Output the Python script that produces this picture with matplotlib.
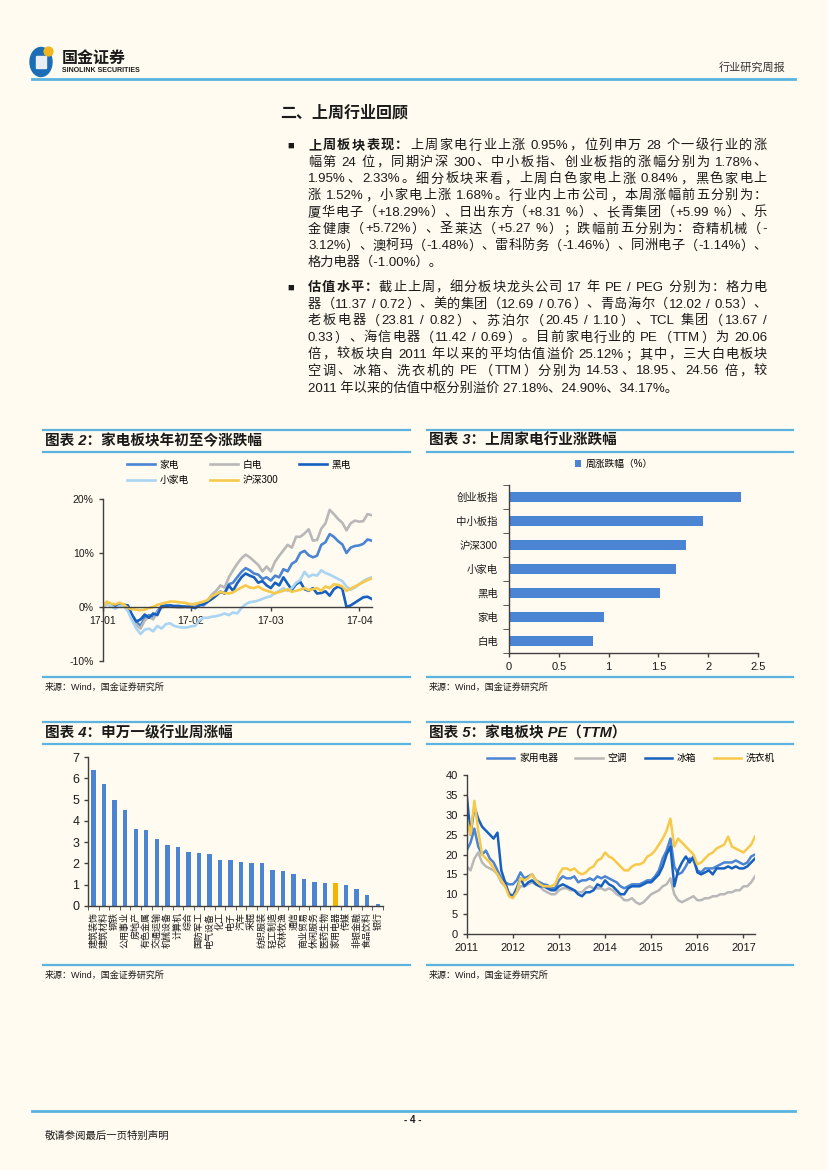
import matplotlib
matplotlib.use("Agg")
import matplotlib.pyplot as plt
import matplotlib.patches as patches
from matplotlib.lines import Line2D
import numpy as np

W, H = 827, 1170
BG = "#fffbf0"
FRAME = "#5ab4df"
INK = "#1a1a1a"
AXC = "#404040"
plt.rcParams["font.family"] = ["Liberation Sans", "Noto Sans CJK SC"]
plt.rcParams["axes.unicode_minus"] = False

# ---- chart 2: YTD change (%) per trading day ----
ytd_days = np.arange(65)
ytd_ticks = [0, 21, 40, 61]
ytd_ticklabels = ["17-01", "17-02", "17-03", "17-04"]
jiadian = [0, 0.6, 0.3, 0.0, 0.3, 0.5, -0.3, -1.5, -2.8, -3.5, -2.0, -1.5, -2.0, -0.8, 0.1, 0.3,
           0.2, 0.1, 0.0, 0.0, 0.2, 0.1, 0.0, 0.5, 0.3, 1.0, 1.6, 2.3, 2.8, 2.6, 4.2, 4.5,
           5.5, 6.5, 7.2, 6.8, 6.2, 6.0, 5.2, 5.5, 4.9, 5.8, 5.5, 7.0, 6.6, 8.0, 8.5, 10.0,
           10.4, 9.6, 9.2, 9.5, 11.5, 12.0, 13.5, 13.0, 12.2, 11.6, 10.0, 11.0, 11.3, 11.4, 11.7, 12.5, 12.3]
baidian = [0, 0.8, 0.2, -0.2, 0.3, 0.4, -0.5, -2.0, -3.3, -4.0, -2.5, -1.8, -2.3, -1.0, -0.2, 0.2,
           0.1, 0.0, -0.1, -0.1, 0.1, 0.0, -0.2, 0.5, 0.4, 1.3, 2.3, 3.0, 4.0, 3.6, 5.5, 6.8,
           8.0, 9.0, 9.7, 9.2, 8.5, 7.8, 6.6, 7.5, 6.6, 8.4, 9.5, 10.5, 11.5, 11.0, 13.0, 13.0,
           13.6, 14.4, 12.3, 12.4, 14.5, 15.5, 18.0, 17.2, 16.3, 15.6, 14.2, 15.5, 16.0, 15.8, 15.9, 17.2, 17.0]
heidian = [0.0, 0.9, 0.4, 0.1, 0.5, 0.4, 0.3, -1.5, -2.7, -2.3, -1.4, -2.0, -1.2, -1.5, 0.2, 0.2,
           0.3, 0.2, 0.2, 0.1, 0.0, 0.0, -0.2, 0.3, 0.5, 1.0, 1.5, 2.1, 2.8, 2.5, 4.0, 3.0,
           4.4, 5.5, 6.2, 5.8, 5.5, 4.5, 4.8, 4.0, 3.5, 4.5, 4.0, 5.5, 4.3, 3.2, 4.2, 4.7,
           3.3, 3.0, 3.5, 2.5, 2.6, 2.9, 2.1, 3.3, 3.8, 3.4, 0.0, 0.3, 0.8, 1.3, 1.8, 1.9, 1.5]
xiaojiadian = [0, 0.5, 0.2, -0.3, 0.2, 0.2, -0.8, -2.5, -4.0, -5.0, -4.2, -4.0, -4.5, -3.5, -4.0, -3.2,
               -3.0, -3.5, -3.7, -3.8, -3.8, -3.6, -3.5, -2.5, -2.0, -2.0, -1.8, -1.7, -1.5, -1.2, -1.5, -1.0,
               -1.2, -0.2, 0.5, 0.9, 1.0, 1.2, 1.5, 1.8, 2.0, 2.6, 3.0, 3.5, 3.0, 3.5, 4.5, 5.0,
               6.5, 5.6, 6.0, 5.8, 6.8, 6.3, 6.0, 5.6, 5.2, 4.8, 3.8, 3.2, 3.6, 4.2, 4.8, 5.2, 5.5]
hs300 = [0, 1.0, 0.6, 0.5, 0.8, 0.5, -0.2, -0.4, -0.5, -0.6, -0.5, -0.2, 0.0, 0.4, 0.6, 0.8,
         1.0, 1.0, 0.9, 0.8, 0.7, 0.5, 0.6, 0.8, 1.0, 1.3, 2.0, 2.4, 2.8, 2.6, 2.5, 2.7,
         3.2, 3.6, 4.0, 3.6, 3.5, 3.8, 3.3, 3.0, 2.8, 2.5, 2.8, 3.0, 3.3, 2.8, 3.0, 3.2,
         3.5, 3.1, 3.3, 3.5, 3.0, 3.8, 3.5, 4.2, 4.1, 3.8, 3.0, 3.4, 3.8, 4.2, 4.6, 5.0, 5.3]

# ---- chart 3: last week change (%) ----
week_cats = ["白电", "家电", "黑电", "小家电", "沪深300", "中小板指", "创业板指"]
week_vals = [0.84, 0.95, 1.52, 1.68, 1.78, 1.95, 2.33]

# ---- chart 4: SW level-1 industries weekly change ----
ind_names = ["建筑装饰", "建筑材料", "钢铁", "公用事业", "房地产", "有色金属", "交通运输", "机械设备",
             "计算机", "综合", "国防军工", "电气设备", "化工", "电子", "汽车", "采掘", "纺织服装",
             "轻工制造", "农林牧渔", "通信", "商业贸易", "休闲服务", "医药生物", "家用电器", "传媒",
             "非银金融", "食品饮料", "银行"]
ind_vals = [6.40, 5.75, 4.96, 4.52, 3.63, 3.55, 3.16, 2.86, 2.76, 2.54, 2.50, 2.45, 2.18, 2.15,
            2.07, 2.03, 2.03, 1.68, 1.65, 1.52, 1.29, 1.13, 1.08, 1.08, 1.00, 0.80, 0.52, 0.09]

# ---- chart 5: PE(TTM), monthly, 2011-01 .. 2017-04 ----
pe_years = 2011 + np.arange(76) / 12.0
pe_jydq = [21, 23, 26.5, 22, 20, 21, 19, 18, 16, 14, 13, 12.5,
           12.5, 13.5, 15.5, 14, 14.5, 15, 13.5, 13, 12.5, 12.3, 11.5, 11.5,
           13.5, 14.5, 14, 14, 14.5, 13, 13.5, 13.5, 14, 13.5, 14.5, 14,
           14.5, 14, 13.5, 13, 12, 11.5, 12, 12.5, 12.5, 12.5, 13, 13.5,
           13.5, 14.5, 16, 19, 21, 24, 17, 15, 15.5, 17, 19, 18.5,
           16, 15.5, 16.5, 16.5, 16.5, 17, 17.5, 18, 18, 18, 18.5, 18,
           17.5, 18, 19.5, 20]
pe_kt = [17, 16, 19, 20.5, 18, 17, 16.5, 16, 15, 13, 12, 10.5,
         9.5, 10.5, 12, 12, 12.5, 13, 12.5, 12, 11, 10.5, 10, 10,
         11, 11.5, 11.5, 11, 11, 10.5, 10.5, 11.5, 12, 11.5, 11.5, 11.5,
         11, 11.5, 11, 10, 9.5, 8.5, 8.5, 9, 8, 7.5, 8, 9,
         10, 10.5, 11, 12, 12.5, 14, 10, 8.5, 8, 8.5, 9, 9.5,
         8.5, 8.5, 9, 9, 9.5, 9.5, 10, 10, 10.5, 10.5, 11, 11,
         12, 12, 13, 14.5]
pe_bx = [35, 25, 32, 29, 27, 26, 25, 24, 25.5, 16, 13, 10,
         9.5, 11.5, 14, 12, 13, 13.5, 12.5, 12, 12, 11.5, 11, 11,
         12, 12.5, 12, 11.5, 11, 10, 9.5, 10.5, 10.5, 11, 12.5, 12,
         13.5, 12.5, 12, 11, 10, 10, 11.5, 12, 12, 12, 12.5, 13,
         13, 14, 15, 17, 20, 22, 12, 16, 18, 19.5, 18, 19.5,
         15.5, 15, 15.5, 16, 15, 16.5, 16.5, 16.5, 17, 16.5, 17, 16.5,
         16.5, 17, 18, 19]
pe_xyj = [29, 25, 33.5, 26, 20, 19, 18, 16.5, 15, 13.5, 12, 9.5,
          9, 10.5, 14, 13.5, 14, 15, 13.5, 12.5, 12, 12, 12, 12.5,
          15, 16.5, 16.5, 16, 16.5, 15.5, 15, 15.5, 16.5, 17, 18.5, 19,
          20.5, 19.5, 19, 18, 17, 16, 16, 17, 17.5, 17.5, 18, 19.5,
          20, 21, 22.5, 24, 26, 29, 22, 24, 23, 22, 21, 20,
          17.5, 18, 19, 20, 20.5, 21.5, 22, 22.5, 24.5, 22, 21.5, 21,
          20.5, 21.5, 22.5, 24.5]

C_MID = "#4a84d2"
C_GRAY = "#b8b8b8"
C_DARK = "#1660c0"
C_LIGHT = "#a9d4f2"
C_YEL = "#f7c94a"
C_GOLD = "#f5b400"

fig = plt.figure(figsize=(W / 100, H / 100), dpi=100, facecolor=BG)
renderer = fig.canvas.get_renderer()

# page layer in pixel coordinates
pg = fig.add_axes([0, 0, 1, 1])
pg.set_xlim(0, W)
pg.set_ylim(H, 0)
pg.axis("off")


def hline(y, x0, x1, lw=1.6):
    pg.add_line(Line2D([x0, x1], [y, y], color=FRAME, lw=lw))


def px_axes(l, t, r, b):
    ax = fig.add_axes([l / W, 1 - b / H, (r - l) / W, (b - t) / H])
    ax.set_facecolor("none")
    return ax


# header
pg.add_patch(patches.Ellipse((41, 62), 22, 29, color="#1b6db5"))
pg.add_patch(patches.FancyBboxPatch((37, 57), 9, 11, boxstyle="round,pad=0.5", color="#e8eef2"))
pg.add_patch(patches.Circle((48.5, 51.5), 4.4, color="#f2b51d"))
pg.text(62, 58, "国金证券", fontsize=11.5, fontweight="bold", color=INK, va="center")
pg.text(62, 71, "SINOLINK SECURITIES", fontsize=5, fontweight="bold", color=INK, va="center")
pg.text(785, 67, "行业研究周报", fontsize=8, color="#333333", ha="right", va="center")
hline(79, 32, 795, lw=2)

# section title and text
pg.text(280, 113, "二、上周行业回顾", fontsize=11.5, fontweight="bold", color=INK, va="center")


def split_tokens(segs):
    # each CJK char is a token, ascii runs stay together; remember spaces before tokens
    out = []
    for s, bold in segs:
        buf, sp = "", False
        for ch in s:
            if ch == " ":
                if buf:
                    out.append((buf, bold, sp))
                    buf = ""
                sp = True
            elif ord(ch) < 128:
                buf += ch
            else:
                if buf:
                    out.append((buf, bold, sp))
                    buf, sp = "", False
                out.append((ch, bold, sp))
                sp = False
        if buf:
            out.append((buf, bold, sp))
    return out


def justify_line(segs, x0, x1, y, size=9.5):
    toks = split_tokens(segs)
    arts = []
    for s, b, sp in toks:
        arts.append(pg.text(0, y, s, fontsize=size, color=INK, va="center",
                            fontweight="bold" if b else "normal"))
    ws = [a.get_window_extent(renderer).width for a in arts]
    sw = 0.3 * size * 100 / 72
    nsp = sum(1 for t in toks[1:] if t[2])
    gap = (x1 - x0 - sum(ws) - nsp * sw) / max(len(arts) - 1, 1)
    x = x0
    for i, (a, w) in enumerate(zip(arts, ws)):
        if i > 0 and toks[i][2]:
            x += sw
        a.set_x(x)
        x += w + gap


para1 = [
    [("上周板块表现：", True), ("上周家电行业上涨 0.95%，位列申万 28 个一级行业的涨", False)],
    [("幅第 24 位，同期沪深 300、中小板指、创业板指的涨幅分别为 1.78%、", False)],
    [("1.95%、2.33%。细分板块来看，上周白色家电上涨 0.84%，黑色家电上", False)],
    [("涨 1.52%，小家电上涨 1.68%。行业内上市公司，本周涨幅前五分别为：", False)],
    [("厦华电子（+18.29%）、日出东方（+8.31 %）、长青集团（+5.99 %）、乐", False)],
    [("金健康（+5.72%）、圣莱达（+5.27 %）；跌幅前五分别为：奇精机械（-", False)],
    [("3.12%）、澳柯玛（-1.48%）、雷科防务（-1.46%）、同洲电子（-1.14%）、", False)],
]
para2 = [
    [("估值水平：", True), ("截止上周，细分板块龙头公司 17 年 PE / PEG 分别为：格力电", False)],
    [("器（11.37 / 0.72）、美的集团（12.69 / 0.76）、青岛海尔（12.02 / 0.53）、", False)],
    [("老板电器（23.81 / 0.82）、苏泊尔（20.45 / 1.10）、TCL 集团（13.67 /", False)],
    [("0.33）、海信电器（11.42 / 0.69）。目前家电行业的 PE（TTM）为 20.06", False)],
    [("倍，较板块自 2011 年以来的平均估值溢价 25.12%；其中，三大白电板块", False)],
    [("空调、冰箱、洗衣机的 PE（TTM）分别为 14.53、18.95、24.56 倍，较", False)],
]
LX0, LX1, LH = 308, 767, 16.7

pg.text(291, 146, "■", fontsize=8, color=INK, va="center", ha="center")
for k, segs in enumerate(para1):
    justify_line(segs, LX0, LX1, 146 + LH * k)
pg.text(LX0, 146 + LH * 7, "格力电器（-1.00%）。", fontsize=9.5, color=INK, va="center")

pg.text(291, 288, "■", fontsize=8, color=INK, va="center", ha="center")
for k, segs in enumerate(para2):
    justify_line(segs, LX0, LX1, 288 + LH * k)
pg.text(LX0, 288 + LH * 6, "2011 年以来的估值中枢分别溢价 27.18%、24.90%、34.17%。",
        fontsize=9.5, color=INK, va="center")

# chart frames
for (x0, x1) in [(43, 410), (427, 793)]:
    hline(430, x0, x1)
    hline(452, x0, x1)
    hline(677, x0, x1)
    hline(722, x0, x1)
    hline(744, x0, x1)
    hline(965, x0, x1)
    pg.text(x0 + 2, 687, "来源：Wind，国金证券研究所", fontsize=6.5, color=INK, va="center")
    pg.text(x0 + 2, 975, "来源：Wind，国金证券研究所", fontsize=6.5, color=INK, va="center")

pg.text(45, 441, "图表 2：家电板块年初至今涨跌幅", fontsize=10.5, fontweight="bold", style="italic", color=INK, va="center")
pg.text(429, 441, "图表 3：上周家电行业涨跌幅", fontsize=10.5, fontweight="bold", style="italic", color=INK, va="center")
pg.text(45, 733, "图表 4：申万一级行业周涨幅", fontsize=10.5, fontweight="bold", style="italic", color=INK, va="center")
pg.text(429, 733, "图表 5：家电板块 PE（TTM）", fontsize=10.5, fontweight="bold", style="italic", color=INK, va="center")


def style_axes(ax, size=7.5):
    for s in ["top", "right"]:
        ax.spines[s].set_visible(False)
    for s in ["left", "bottom"]:
        ax.spines[s].set_color(AXC)
        ax.spines[s].set_linewidth(1.0)
    ax.tick_params(colors=AXC, labelcolor=INK, labelsize=size, length=3, width=1.0)


# ---- chart 2 ----
ax2 = px_axes(102.7, 499, 371.7, 661)
style_axes(ax2)
lw = 1.9
h1, = ax2.plot(ytd_days, jiadian, color=C_MID, lw=lw, label="家电")
h2, = ax2.plot(ytd_days, baidian, color=C_GRAY, lw=lw, label="白电")
h3, = ax2.plot(ytd_days, heidian, color=C_DARK, lw=lw, label="黑电")
h4, = ax2.plot(ytd_days, xiaojiadian, color=C_LIGHT, lw=lw, label="小家电")
h5, = ax2.plot(ytd_days, hs300, color=C_YEL, lw=lw, label="沪深300")
ax2.set_xlim(0, 64)
ax2.set_ylim(-10, 20)
ax2.spines["bottom"].set_position(("data", 0))
ax2.set_xticks(ytd_ticks)
ax2.set_xticklabels(ytd_ticklabels)
ax2.set_yticks([-10, 0, 10, 20])
ax2.set_yticklabels(["%d%%" % v for v in [-10, 0, 10, 20]])
ax2.legend(handles=[h1, h4, h2, h5, h3], ncol=3, frameon=False, fontsize=7,
           loc="upper left", bbox_to_anchor=(122 / W, 1 - 455 / H), bbox_transform=fig.transFigure,
           handlelength=2.9, handletextpad=0.5, columnspacing=2.1, labelspacing=0.55, borderpad=0)

# ---- chart 3 ----
ax3 = px_axes(509, 485, 758, 653)
style_axes(ax3, size=8)
ax3.barh(np.arange(len(week_cats)), week_vals, height=0.42, color=C_MID, label="周涨跌幅（%）")
ax3.set_xlim(0, 2.5)
ax3.set_ylim(-0.5, len(week_cats) - 0.5)
ax3.set_yticks(np.arange(len(week_cats)))
ax3.set_yticklabels(week_cats, fontsize=7.5)
ax3.set_yticks(np.arange(-0.5, len(week_cats)), minor=True)
ax3.tick_params(axis="y", which="major", length=0, pad=8)
ax3.tick_params(axis="y", which="minor", length=4, color=AXC)
ax3.set_xticks([0, 0.5, 1, 1.5, 2, 2.5])
ax3.set_xticklabels(["0", "0.5", "1", "1.5", "2", "2.5"])
ax3.legend(frameon=False, fontsize=7, loc="center", bbox_to_anchor=(0.42, 1.125),
           handlelength=0.7, handleheight=0.7, handletextpad=0.4, borderpad=0)

# ---- chart 4 ----
ax4 = px_axes(88.4, 757, 383, 906)
style_axes(ax4, size=9)
ind_colors = [C_GOLD if n == "家用电器" else C_MID for n in ind_names]
ax4.bar(np.arange(len(ind_names)), ind_vals, width=0.42, color=ind_colors)
ax4.set_xlim(-0.5, len(ind_names) - 0.5)
ax4.set_ylim(0, 7)
ax4.set_yticks(range(8))
ax4.set_xticks(np.arange(len(ind_names)))
ax4.set_xticklabels(ind_names, rotation=90, fontsize=6.5)
ax4.set_xticks(np.arange(-0.5, len(ind_names)), minor=True)
ax4.tick_params(axis="x", which="major", length=0, pad=4)
ax4.tick_params(axis="x", which="minor", length=3, color=AXC)

# ---- chart 5 ----
ax5 = px_axes(466.7, 775, 755, 934)
style_axes(ax5, size=8)
lw5 = 1.8
g1, = ax5.plot(pe_years, pe_jydq, color=C_MID, lw=lw5, label="家用电器")
g2, = ax5.plot(pe_years, pe_kt, color=C_GRAY, lw=lw5, label="空调")
g3, = ax5.plot(pe_years, pe_bx, color=C_DARK, lw=lw5, label="冰箱")
g4, = ax5.plot(pe_years, pe_xyj, color=C_YEL, lw=lw5, label="洗衣机")
ax5.set_xlim(2011, 2011 + 75 / 12.0)
ax5.set_ylim(0, 40)
ax5.set_yticks(range(0, 41, 5))
ax5.set_xticks(range(2011, 2018))
ax5.set_xticklabels([str(y) for y in range(2011, 2018)])
ax5.legend(handles=[g1, g2, g3, g4], ncol=4, frameon=False, fontsize=7,
           loc="center left", bbox_to_anchor=(482 / W, 1 - 758 / H), bbox_transform=fig.transFigure,
           handlelength=2.8, handletextpad=0.5, columnspacing=1.8, borderpad=0)

# footer
hline(1111, 32, 795, lw=2)
pg.text(413, 1120, "- 4 -", fontsize=7, fontweight="bold", color=INK, ha="center", va="center")
pg.text(45, 1136, "敬请参阅最后一页特别声明", fontsize=7.5, color=INK, va="center")

fig.savefig("out.png", dpi=100, facecolor=BG)
